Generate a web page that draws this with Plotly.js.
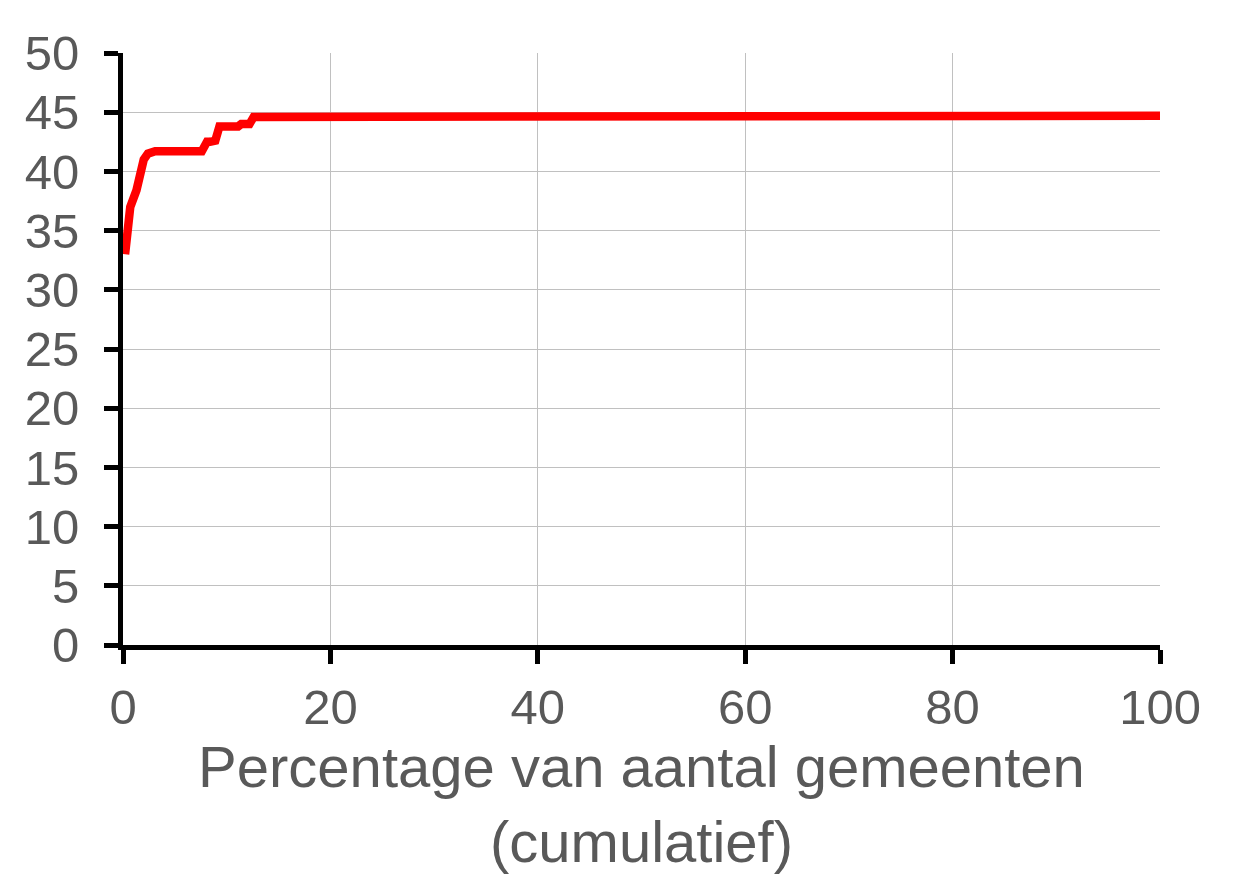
<!DOCTYPE html>
<html>
<head>
<meta charset="utf-8">
<script src="https://cdn.plot.ly/plotly-3.0.1.min.js"></script>
<style>html,body{margin:0;padding:0;background:#fff;}</style>
</head>
<body>
<div id="chart" style="width:1251px;height:884px;"></div>
<script>
// Cumulative percentage of municipalities (x) vs value (y)
const pctGemeenten = [0.2, 0.5, 0.7, 1.3, 1.7, 2.0, 2.4, 3.1, 7.6, 8.1, 8.4, 8.9, 9.3, 11.1, 11.4, 12.2, 12.6, 15.3, 15.6, 100];
const waarde       = [33.0, 34.8, 37.0, 38.4, 40.0, 41.0, 41.5, 41.7, 41.7, 42.5, 42.5, 42.6, 43.8, 43.8, 44.0, 44.0, 44.6, 44.6, 44.7, 44.7];
const xTicks = [0, 20, 40, 60, 80, 100];
const yTicks = [0, 5, 10, 15, 20, 25, 30, 35, 40, 45, 50];
const xTitle = 'Percentage van aantal gemeenten<br>(cumulatief)';

const font = 'Liberation Sans, Arial, sans-serif';
const grey = '#595959';

const trace = {
  x: pctGemeenten,
  y: waarde,
  type: 'scatter',
  mode: 'lines',
  line: {color: '#ff0000', width: 8.5},
  hoverinfo: 'skip'
};

const axisCommon = {
  showline: true, linecolor: '#000', linewidth: 5,
  ticks: 'outside', ticklen: 14, tickwidth: 5, tickcolor: '#000',
  showgrid: true, gridcolor: '#c0c0c0', gridwidth: 1,
  zeroline: false,
  tickfont: {family: font, size: 49, color: grey},
  fixedrange: true
};

const layout = {
  width: 1251, height: 884,
  margin: {l: 123, r: 91, t: 53, b: 239},
  paper_bgcolor: '#fff', plot_bgcolor: '#fff',
  showlegend: false,
  xaxis: Object.assign({}, axisCommon, {
    range: [0, 100], tickmode: 'array', tickvals: xTicks, ticktext: xTicks.map(String),
    ticklabelstandoff: 1,
    title: {text: xTitle, font: {family: font, size: 58, color: grey}, standoff: 12}
  }),
  yaxis: Object.assign({}, axisCommon, {
    range: [0, 50], tickmode: 'array', tickvals: yTicks, ticktext: yTicks.map(String),
    ticklabelstandoff: 15
  })
};

Plotly.newPlot('chart', [trace], layout, {displayModeBar: false, staticPlot: true});
</script>
</body>
</html>
